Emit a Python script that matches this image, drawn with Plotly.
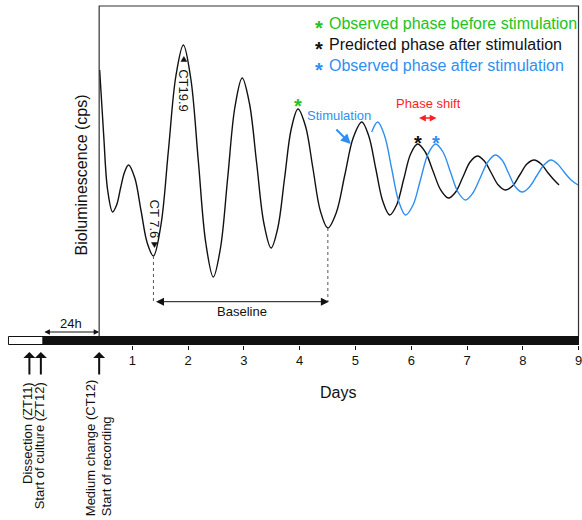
import plotly.graph_objects as go

# ---- data (days since start, bioluminescence in cps) ----
black_days = [0.416, 0.488, 0.559, 0.648, 0.720, 0.791, 0.863, 0.934, 1.046, 1.157,
              1.269, 1.380, 1.514, 1.648, 1.782, 1.916, 2.050, 2.184, 2.318, 2.452,
              2.581, 2.711, 2.840, 2.970, 3.099, 3.229, 3.358, 3.488, 3.608, 3.729,
              3.849, 3.970, 4.104, 4.238, 4.371, 4.505, 4.657, 4.809, 4.961, 5.113,
              5.238, 5.363, 5.488, 5.613, 5.738, 5.863, 5.988, 6.113, 6.251, 6.389,
              6.528, 6.666, 6.796, 6.925, 7.054, 7.184, 7.309, 7.434, 7.559, 7.684,
              7.813, 7.943, 8.072, 8.202, 8.327, 8.452, 8.559, 8.648]
black_cps = [2750, 2100, 1550, 1330, 1400, 1570, 1730, 1800, 1670, 1345,
             1020, 890, 1200, 1945, 2690, 3000, 2660, 1840, 1020, 680,
             970, 1675, 2380, 2670, 2420, 1820, 1220, 970, 1170, 1665,
             2160, 2360, 2190, 1765, 1340, 1170, 1325, 1700, 2075, 2230,
             2090, 1765, 1440, 1300, 1400, 1655, 1910, 2010, 1930, 1740,
             1550, 1470, 1530, 1680, 1830, 1890, 1840, 1720, 1600, 1550,
             1590, 1700, 1810, 1850, 1810, 1720, 1650, 1600]

blue_days = [5.291, 5.398, 5.523, 5.648, 5.773, 5.898, 6.032, 6.166, 6.300, 6.434,
             6.568, 6.702, 6.836, 6.970, 7.104, 7.238, 7.371, 7.505, 7.626, 7.746,
             7.867, 7.988, 8.117, 8.246, 8.376, 8.505, 8.621, 8.738, 8.863, 8.988]
blue_cps = [2130, 2230, 2090, 1765, 1440, 1300, 1400, 1655, 1910, 2010,
            1930, 1730, 1530, 1450, 1520, 1675, 1830, 1900, 1850, 1715,
            1580, 1530, 1580, 1690, 1800, 1850, 1810, 1730, 1650, 1600]

day_ticks = [1, 2, 3, 4, 5, 6, 7, 8, 9]

legend_texts = ["Observed phase before stimulation",
                "Predicted phase after stimulation",
                "Observed phase after stimulation"]

# ---- styling ----
FONT = "Liberation Sans, Arial, sans-serif"
BLACK = "#111111"
BLUE = "#2f8ff0"
GREEN = "#22c322"
RED = "#ff1e1e"
W, H = 582, 520


def xd(px):
    return (px - 76.7) / 56.0


def yv(py):
    return (345.0 - py) * 10.0


def txt(x, y, s, size=13, color=BLACK, angle=0, xa="center", ya="middle", dx=0, dy=0):
    return dict(x=x, y=y, xref="x", yref="y", text=s, showarrow=False,
                font=dict(size=size, color=color, family=FONT), textangle=angle,
                xanchor=xa, yanchor=ya, xshift=dx, yshift=dy)


def ptxt(px, py, s, **kw):
    return txt(xd(px), yv(py), s, **kw)


def arrow(xt, yt, xs, ys, color=BLACK, width=1.0, head=2, size=1.0, both=False):
    return dict(x=xd(xt), y=yv(yt), ax=xd(xs), ay=yv(ys), xref="x", yref="y",
                axref="x", ayref="y", text="", showarrow=True,
                arrowhead=head, arrowsize=size, arrowwidth=width, arrowcolor=color,
                arrowside="end+start" if both else "end",
                startarrowhead=head, startarrowsize=size, standoff=0, startstandoff=0)


fig = go.Figure()
fig.add_trace(go.Scatter(x=black_days, y=black_cps, mode="lines",
                         line=dict(color=BLACK, width=1.4, shape="spline", smoothing=1.0),
                         hoverinfo="skip", showlegend=False))
fig.add_trace(go.Scatter(x=blue_days, y=blue_cps, mode="lines",
                         line=dict(color=BLUE, width=1.4, shape="spline", smoothing=1.0),
                         hoverinfo="skip", showlegend=False))

shapes = []
# frame around the recording
shapes.append(dict(type="path", xref="x", yref="y",
                   path=f"M{xd(99.5)},{yv(336.5)} L{xd(99.5)},{yv(6)} L{xd(580.5)},{yv(6)} L{xd(580.5)},{yv(336.5)}",
                   line=dict(color="#333333", width=1.2)))
# light/dark bar
shapes.append(dict(type="rect", xref="x", yref="y", x0=xd(8.5), x1=xd(580.5),
                   y0=yv(344.5), y1=yv(336.5), fillcolor="white",
                   line=dict(color=BLACK, width=1)))
shapes.append(dict(type="rect", xref="x", yref="y", x0=xd(43), x1=xd(580.5),
                   y0=yv(344.5), y1=yv(336.5), fillcolor=BLACK,
                   line=dict(color=BLACK, width=1)))
# dotted baseline markers from the two troughs
for i in (11, 35):
    shapes.append(dict(type="line", xref="x", yref="y", x0=black_days[i], x1=black_days[i],
                       y0=black_cps[i], y1=yv(301.5),
                       line=dict(color="#555555", width=1, dash="dot")))
# small triangles for CT labels
def tri(cx, tip, base, hw=3.0):
    return dict(type="path", xref="x", yref="y",
                path=f"M{xd(cx)},{yv(tip)} L{xd(cx-hw)},{yv(base)} L{xd(cx+hw)},{yv(base)} Z",
                fillcolor=BLACK, line=dict(color=BLACK, width=0.5))
shapes.append(tri(184.5, 56.5, 61.5))
shapes.append(tri(155.0, 247.5, 242.5))

ann = []
# legend
for i, (s, c) in enumerate(zip(legend_texts, [GREEN, BLACK, BLUE])):
    y = 23 + 21 * i
    ann.append(ptxt(328, y, s, size=16, color=c, xa="left"))
    ann.append(ptxt(320, y, "<b>*</b>", size=20, color=c, dy=-4.5))
# stars on peaks
ann.append(txt(black_days[31], black_cps[31], "<b>*</b>", size=20, color=GREEN, dy=3))
ann.append(txt(black_days[47], black_cps[47], "<b>*</b>", size=20, color=BLACK, dy=1))
ann.append(txt(blue_days[9], blue_cps[9], "<b>*</b>", size=20, color=BLUE, dy=1))
# stimulation
ann.append(ptxt(306, 115, "Stimulation", size=13, color=BLUE, xa="left"))
ann.append(arrow(352, 144, 336, 128, color=BLUE, width=2, head=2, size=1.0))
# phase shift
ann.append(ptxt(429.5, 103, "Phase shift", size=13, color=RED))
ann.append(arrow(438, 118, 419, 118, color=RED, width=1.5, head=2, size=0.9, both=True))
# baseline
ann.append(arrow(330, 301.7, 155, 301.7, color=BLACK, width=1, head=2, size=1.6, both=True))
ann.append(ptxt(243, 311, "Baseline", size=13))
# CT labels
ann.append(ptxt(184.5, 91, "CT19.9", size=13, angle=90))
ann.append(ptxt(155.5, 219.5, "CT 7.6", size=13, angle=90))
# 24h
ann.append(arrow(99.5, 332, 43, 332, color=BLACK, width=1, head=2, size=1.1, both=True))
ann.append(ptxt(71, 323, "24h", size=13))
# event arrows below bar
for x in (29.5, 41.0, 99.5):
    ann.append(arrow(x, 352, x, 376, color=BLACK, width=2, head=1, size=1.0))
ann.append(ptxt(27, 380, "Dissection (ZT11)", size=13, angle=-90, ya="top"))
ann.append(ptxt(40, 380, "Start of culture (ZT12)", size=13, angle=-90, ya="top"))
ann.append(ptxt(91, 377, "Medium change (CT12)", size=13, angle=-90, ya="top"))
ann.append(ptxt(106.5, 518, "Start of recording", size=13, angle=-90, ya="bottom"))
# axis titles
ann.append(ptxt(81.7, 175, "Bioluminescence (cps)", size=16, angle=-90))
ann.append(ptxt(339, 392.5, "Days", size=16))

fig.update_layout(
    width=W, height=H, margin=dict(l=0, r=0, t=0, b=0, pad=0),
    paper_bgcolor="white", plot_bgcolor="white",
    font=dict(family=FONT, color=BLACK, size=13),
    showlegend=False,
    xaxis=dict(range=[xd(0), xd(W)], domain=[0, 1], anchor="free", position=1 - 344.5 / H,
               tickvals=day_ticks, ticktext=[str(d) for d in day_ticks],
               ticks="outside", ticklen=4, tickwidth=1, tickcolor=BLACK,
               ticklabeloverflow="allow",
               showline=False, showgrid=False, zeroline=False,
               tickfont=dict(size=13, color=BLACK, family=FONT), fixedrange=True),
    yaxis=dict(range=[yv(H), yv(0)], domain=[0, 1], visible=False, fixedrange=True),
    shapes=shapes, annotations=ann,
)

fig.write_html("out.html")
